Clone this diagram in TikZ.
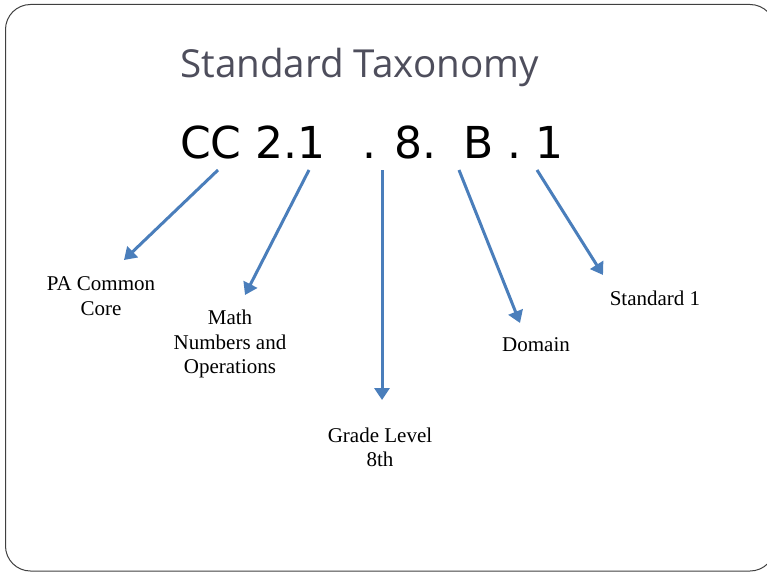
\documentclass[tikz,border=0pt]{standalone}
\usepackage{fontspec}
\setmainfont{Liberation Serif}
\newfontfamily\titlefont{Open Sans}
\newfontfamily\codefont{DejaVu Sans}
\usetikzlibrary{arrows.meta}
\definecolor{arrowblue}{RGB}{74,126,187}
\definecolor{titlegray}{RGB}{78,78,92}
\tikzset{
  lbl/.style={align=center, inner sep=0pt, font=\fontsize{21}{24.5}\selectfont},
  ptr/.style={draw=arrowblue, line width=3pt, -{Triangle[width=15pt,length=12pt]}},
  codetxt/.style={anchor=base west, inner sep=0pt, font=\codefont\fontsize{44}{50}\selectfont}
}
\begin{document}
\begin{tikzpicture}[x=1pt,y=-1pt]
\useasboundingbox (0,0) rectangle (767,572);
\begin{scope}
\clip (0,0) rectangle (767,572);
\draw[black!75, line width=1pt, rounded corners=25pt] (5.5,4.5) rectangle (775,571);
\end{scope}
\node[anchor=base west, inner sep=0pt, text=titlegray, font=\titlefont\fontsize{38.6}{44}\selectfont] (title) at (180,78) {Standard Taxonomy};
\node[codetxt] (c1) at (180,158) {CC 2.1};
\node[codetxt] (c2) at (362,158) {. 8.};
\node[codetxt] (c3) at (463,158) {B . 1};
\coordinate (s1) at (218,170);
\coordinate (s2) at (309,170);
\coordinate (s3) at (382,170);
\coordinate (s4) at (459,170);
\coordinate (s5) at (537,170);
\coordinate (e1) at (124,260);
\coordinate (e2) at (245,295);
\coordinate (e3) at (382,400);
\coordinate (e4) at (520,323);
\coordinate (e5) at (603,275);
\draw[ptr] (s1) -- (e1);
\draw[ptr] (s2) -- (e2);
\draw[ptr] (s3) -- (e3);
\draw[ptr] (s4) -- (e4);
\draw[ptr] (s5) -- (e5);
\node[lbl] (pa) at (101,296) {PA Common\\Core};
\node[lbl] (math) at (230,344) {Math\\Numbers and\\Operations};
\node[lbl] (grade) at (380,447.5) {Grade Level\\8th};
\node[lbl] (dom) at (536,345) {Domain};
\node[lbl] (std) at (655,298) {Standard 1};
\end{tikzpicture}
\end{document}
